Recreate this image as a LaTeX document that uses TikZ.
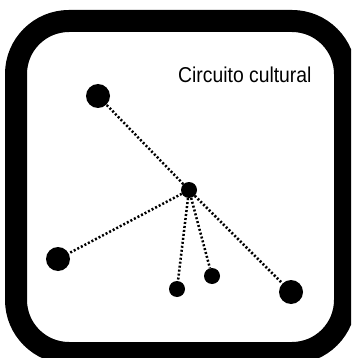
\documentclass[tikz,border=0pt]{standalone}
\usepackage{fontspec}
\setmainfont{Liberation Sans}
\usepackage{tikz}

\tikzset{
  bigdot/.style={circle, fill=black, minimum size=24pt, inner sep=0pt},
  smalldot/.style={circle, fill=black, minimum size=16pt, inner sep=0pt},
  link/.style={line width=2.5pt, dash pattern=on 2pt off 2pt}
}

\begin{document}
\begin{tikzpicture}[x=1pt, y=-1pt]
\useasboundingbox (0,0) rectangle (351,358);
\clip (0,0) rectangle (351,358);
% Frame
\draw[line width=22pt, rounded corners=53pt] (16,21) rectangle (345,353);
\node[anchor=base west, inner sep=0pt, xscale=0.9, font=\fontsize{21.5}{24}\selectfont] (title) at (178,83) {Circuito cultural};
% Dots
\node[smalldot] (hub) at (189,190) {};
\node[bigdot] (nw) at (98,96) {};
\node[bigdot] (w) at (58,259) {};
\node[smalldot] (s1) at (177,289) {};
\node[smalldot] (s2) at (212,276) {};
\node[bigdot] (se) at (291,292) {};
% Links
\foreach \n in {nw, w, s1, s2, se}
  \draw[link] (hub) -- (\n);
\end{tikzpicture}
\end{document}
